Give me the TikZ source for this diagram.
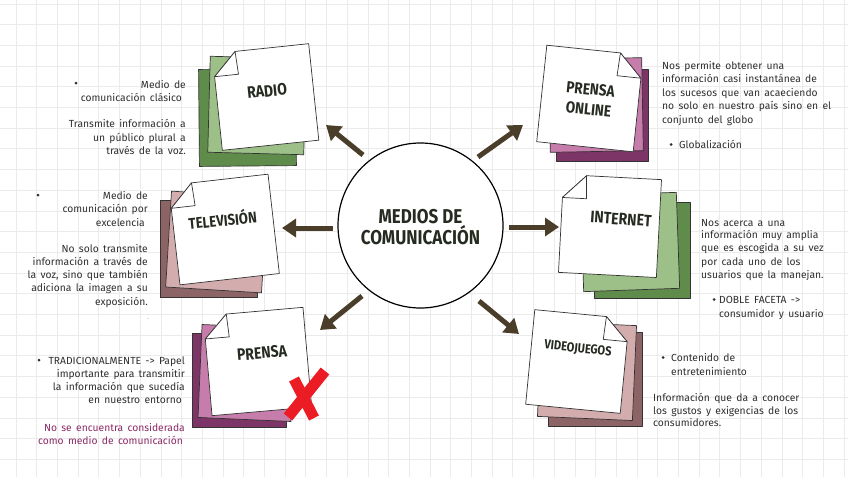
\documentclass[tikz,border=0pt]{standalone}
\usepackage{fontspec}
\setmainfont{Fira Sans}
\newfontfamily\titlefont{Fira Sans}[FakeStretch=0.85]
\usetikzlibrary{arrows.meta}
\definecolor{gridc}{HTML}{EBEBEB}
\definecolor{ink}{HTML}{2F2F2F}
\definecolor{tink}{HTML}{262B22}
\definecolor{arrc}{HTML}{4A3E2B}
\definecolor{gdark}{HTML}{5F8C4A}
\definecolor{glight}{HTML}{9DBF88}
\definecolor{mdark}{HTML}{8D6466}
\definecolor{mlight}{HTML}{D3ACAE}
\definecolor{pdark}{HTML}{7D3466}
\definecolor{plight}{HTML}{C67DAB}
\definecolor{redx}{HTML}{EC1C24}
\definecolor{pinktxt}{HTML}{8C2A66}
\definecolor{edge}{HTML}{333333}
\newcommand\bodyfont{\fontsize{10.3}{12}\selectfont\spaceskip=0.42em plus 0.1em minus 0.05em\relax}
\tikzset{
  txt/.style={font=\bodyfont, text=ink, inner sep=0pt},
  ptxt/.style={font=\bodyfont, text=pinktxt, inner sep=0pt},
  title/.style={font=\titlefont\bfseries\fontsize{16.5}{18}\selectfont, text=tink, inner sep=0pt},
  bigtitle/.style={font=\titlefont\bfseries\fontsize{20}{20}\selectfont, text=tink, inner sep=0pt},
  arr/.style={line width=5pt, draw=arrc, -{Triangle[length=14pt,width=18pt]}},
  cardline/.style={draw=edge, line width=0.7pt, line join=round},
  dotb/.style={circle, fill=ink, inner sep=0pt, minimum size=3pt}
}
\newcommand\plaincard[4]{% center, size/2, rot, color
  \begin{scope}[shift={#1}, rotate=#3]
    \filldraw[cardline, fill=#4] (-#2,-#2) rectangle (#2,#2);
  \end{scope}}
\newcommand\foldTL[3]{% center, half, rot
  \begin{scope}[shift={#1}, rotate=#3]
    \filldraw[cardline, fill=white] (-#2+23,-#2) -- (#2,-#2) -- (#2,#2) -- (-#2,#2) -- (-#2,-#2+23) -- cycle;
    \filldraw[cardline, fill=white] (-#2+23,-#2) -- (-#2+24,-#2+23) -- (-#2,-#2+23) -- cycle;
  \end{scope}}
\newcommand\foldTR[3]{%
  \begin{scope}[shift={#1}, rotate=#3]
    \filldraw[cardline, fill=white] (-#2,-#2) -- (#2-23,-#2) -- (#2,-#2+23) -- (#2,#2) -- (-#2,#2) -- cycle;
    \filldraw[cardline, fill=white] (#2-23,-#2) -- (#2-24,-#2+23) -- (#2,-#2+23) -- cycle;
  \end{scope}}
\begin{document}
\begin{tikzpicture}[x=1pt,y=-1pt]
\useasboundingbox (0,0) rectangle (848,477);
\fill[white] (0,0) rectangle (848,477);
% grid
\foreach \i in {0,...,40} {\draw[gridc, line width=0.8pt] (16+\i*20.7,0) -- (16+\i*20.7,477);}
\foreach \j in {0,...,23} {\draw[gridc, line width=0.8pt] (0,3.9+\j*20.7) -- (848,3.9+\j*20.7);}

% central circle
\node[circle, draw=black, line width=1.2pt, fill=white, minimum size=165pt, inner sep=0pt] (c) at (420.5,225.5) {};
\node[bigtitle, anchor=base] (ct1) at (420.5,223) {MEDIOS DE};
\node[bigtitle, anchor=base] (ct2) at (420.5,244) {COMUNICACIÓN};

% arrows
\coordinate (a1s) at (363,155); \coordinate (a1e) at (326,125);
\coordinate (a2s) at (478,157); \coordinate (a2e) at (523,125);
\coordinate (a3s) at (333,228); \coordinate (a3e) at (282,228);
\coordinate (a4s) at (509,227); \coordinate (a4e) at (559,227);
\coordinate (a5s) at (362,296); \coordinate (a5e) at (320,330);
\coordinate (a6s) at (479,301); \coordinate (a6e) at (519,334);
\foreach \k in {1,...,6} {\draw[arr] (a\k s) -- (a\k e);}

% RADIO card
\plaincard{(247.5,117.5)}{48.5}{0.5}{gdark}
\plaincard{(257,105.5)}{48}{-1.5}{glight}
\foldTL{(265.5,97)}{48.5}{6}
\node[title, rotate=6] (radio) at (267,91) {RADIO};

% TELEVISION card
\plaincard{(208.5,249)}{48.5}{0}{mdark}
\plaincard{(216.5,242)}{48}{-3.5}{mlight}
\foldTL{(224,229.5)}{50}{6.5}
\node[title, rotate=5.5, font=\titlefont\bfseries\fontsize{15.5}{17}\selectfont] (tv) at (222.5,219) {TELEVISIÓN};

% PRENSA card
\plaincard{(239.5,380)}{47}{0}{pdark}
\plaincard{(246.5,373)}{46.5}{-2.5}{plight}
\foldTL{(257.5,361.5)}{50}{5}
\node[title, rotate=5] (prensa) at (262,353) {PRENSA};
\draw[redx, line width=11pt] (325,371) -- (288,417);
\draw[redx, line width=11pt] (294,379) -- (314,418);

% PRENSA ONLINE card
\plaincard{(602,115)}{46}{0}{pdark}
\plaincard{(596,105)}{46.5}{1}{plight}
\foldTR{(590,98.5)}{48.5}{-6}
\node[title, rotate=-6, font=\titlefont\bfseries\fontsize{16}{18}\selectfont] (pon1) at (590.5,89.5) {PRENSA};
\node[title, rotate=-6, font=\titlefont\bfseries\fontsize{16}{18}\selectfont] (pon2) at (588.5,109.5) {ONLINE};

% INTERNET card
\plaincard{(642,250)}{48}{0}{gdark}
\plaincard{(630,242)}{48}{2}{glight}
\foldTL{(610,226)}{49}{-3}
\node[title, rotate=-4] (internet) at (621,219) {INTERNET};

% VIDEOJUEGOS card
\plaincard{(595,379)}{47}{0}{mdark}
\plaincard{(587,371)}{47.5}{-2.5}{mlight}
\foldTR{(577.5,361.5)}{47.5}{-5.5}
\node[title, rotate=-6, font=\titlefont\bfseries\fontsize{13}{15}\selectfont] (video) at (578,349) {VIDEOJUEGOS};

% RADIO text
\node[dotb] (rb) at (76,83) {};
\node[txt, anchor=base east] (r1) at (186,88) {Medio de};
\node[txt, anchor=base east] (r2) at (182,101) {comunicación clásico};
\node[txt, anchor=base east] (r3) at (186,127) {Transmite información a};
\node[txt, anchor=base east] (r4) at (186,141) {un público plural a};
\node[txt, anchor=base east] (r5) at (186,154) {través de la voz.};

% TV text
\node[dotb] (tb) at (38,195) {};
\node[txt, anchor=base east] (t1) at (148,199) {Medio de};
\node[txt, anchor=base east] (t2) at (148,212) {comunicación por};
\node[txt, anchor=base east] (t3) at (145,226) {excelencia};
\node[txt, anchor=base east] (t4) at (148,252) {No solo transmite};
\node[txt, anchor=base east] (t5) at (148,265) {información a través de};
\node[txt, anchor=base east] (t6) at (148,278) {la voz, sino que también};
\node[txt, anchor=base east] (t7) at (148,291) {adiciona la imagen a su};
\node[txt, anchor=base east] (t8) at (148,305) {exposición.};
\node[txt, anchor=base east, font=\fontsize{5}{6}\selectfont] (t9) at (149,319) {.};

% PRENSA text
\node[dotb] (pb) at (39,360) {};
\node[txt, anchor=base east] (p1) at (185,364) {TRADICIONALMENTE -> Papel};
\node[txt, anchor=base east] (p2) at (185,377) {importante para transmitir};
\node[txt, anchor=base east] (p3) at (185,390) {la información que sucedía};
\node[txt, anchor=base east] (p4) at (182,403) {en nuestro entorno};
\node[ptxt, anchor=base east] (p5) at (185,431) {No se encuentra considerada};
\node[ptxt, anchor=base east] (p6) at (183,444) {como medio de comunicación};

% PRENSA ONLINE text
\node[txt, anchor=base west] (o1) at (662,69) {Nos permite obtener una};
\node[txt, anchor=base west] (o2) at (662,82) {información casi instantánea de};
\node[txt, anchor=base west] (o3) at (662,96) {los sucesos que van acaeciendo};
\node[txt, anchor=base west] (o4) at (662,109) {no solo en nuestro país sino en el};
\node[txt, anchor=base west] (o5) at (662,123) {conjunto del globo};
\node[dotb] (ob) at (671,144.5) {};
\node[txt, anchor=base west] (o6) at (679,148) {Globalización};

% INTERNET text
\node[txt, anchor=base west] (i1) at (701,226) {Nos acerca a una};
\node[txt, anchor=base west] (i2) at (701,238) {información muy amplia};
\node[txt, anchor=base west] (i3) at (701,251) {que es escogida a su vez};
\node[txt, anchor=base west] (i4) at (701,265) {por cada uno de los};
\node[txt, anchor=base west] (i5) at (701,278) {usuarios que la manejan.};
\node[dotb] (ib) at (714,299.5) {};
\node[txt, anchor=base west] (i6) at (719,303) {DOBLE FACETA ->};
\node[txt, anchor=base west] (i7) at (719,317) {consumidor y usuario};

% VIDEOJUEGOS text
\node[dotb] (vb) at (663,357.5) {};
\node[txt, anchor=base west] (v1) at (671,361) {Contenido de};
\node[txt, anchor=base west] (v2) at (671,375) {entretenimiento};
\node[txt, anchor=base west] (v3) at (653,401) {Información que da a conocer};
\node[txt, anchor=base west] (v4) at (653,414) {los gustos y exigencias de los};
\node[txt, anchor=base west] (v5) at (653,426) {consumidores.};
\end{tikzpicture}
\end{document}
